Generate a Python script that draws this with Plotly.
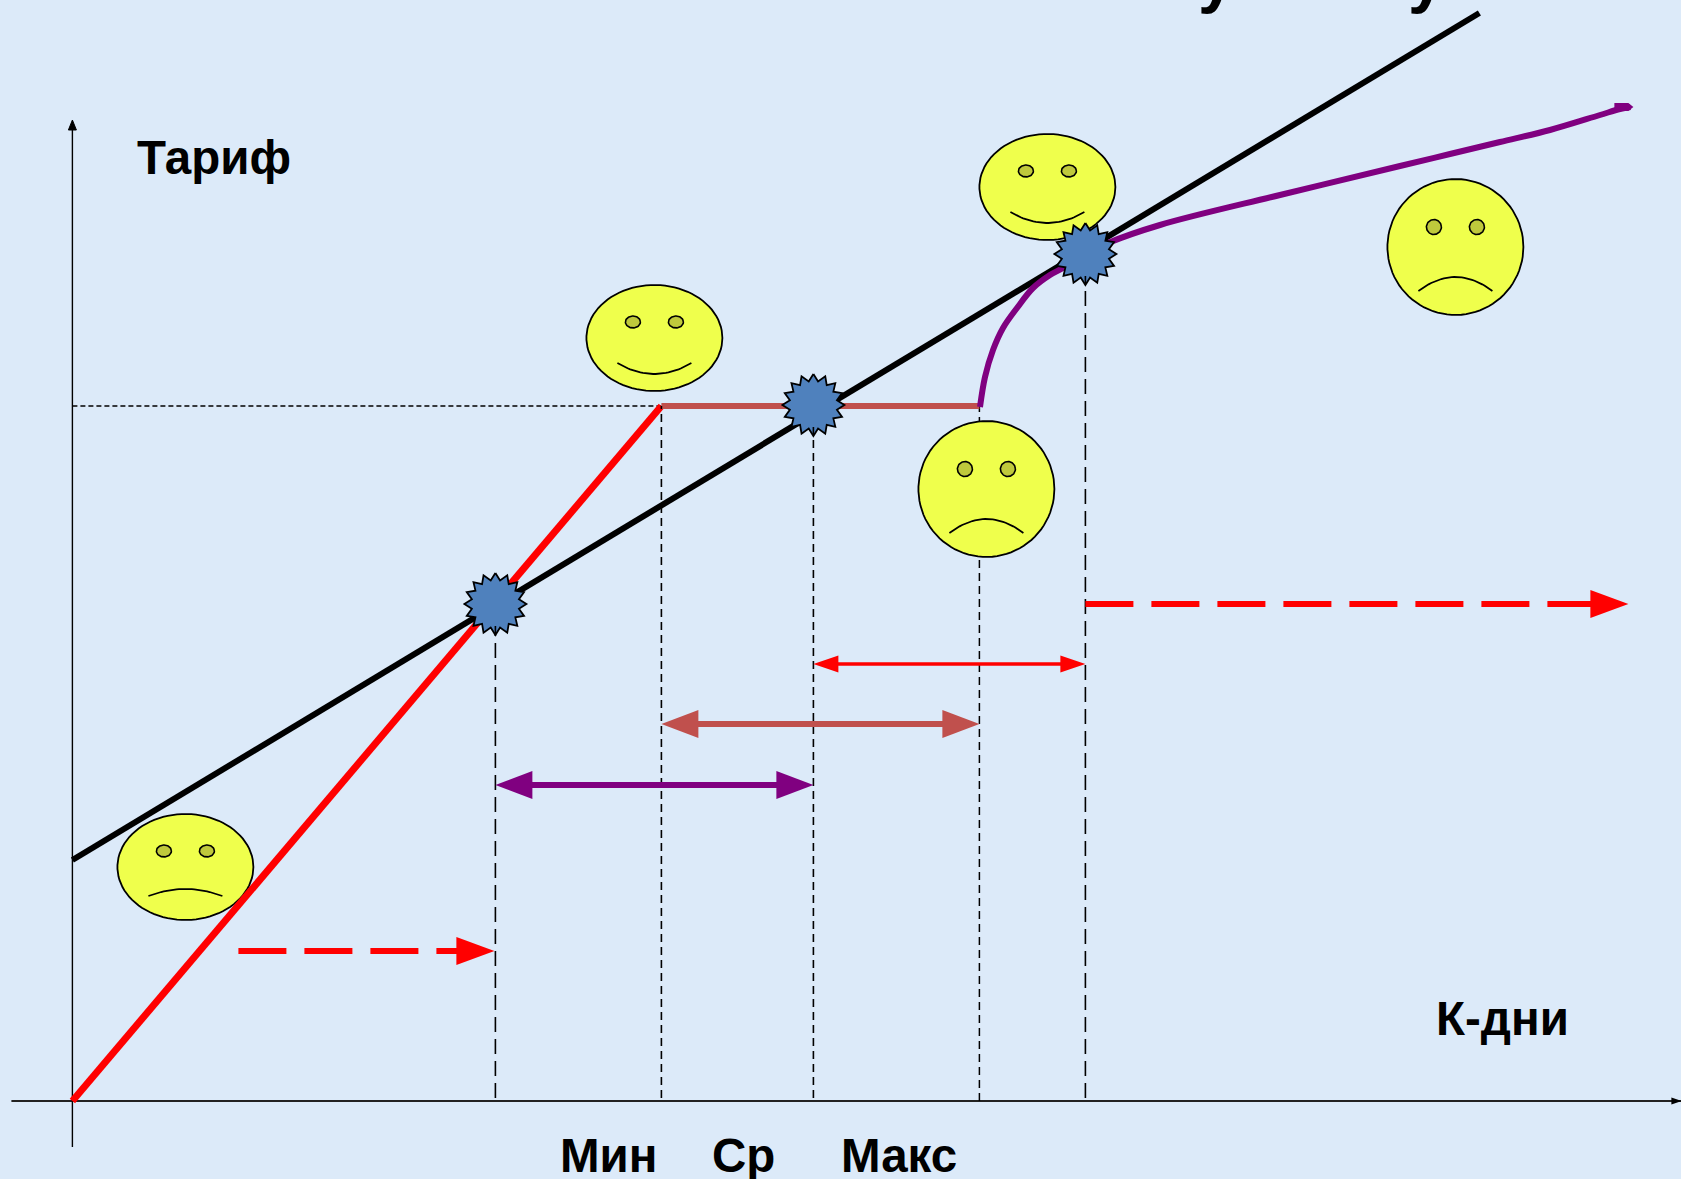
import numpy as np
import plotly.graph_objects as go

# --- chart values (x: К-дни, y: Тариф, in drawing units from the origin) ---
x_breaks = [423, 589, 741, 907, 1013]            # min-cross, Мин, Ср, Макс, max-cross
tariff_cap = 695

red_x, red_y = [0, 589], [0, 695]
brown_x, brown_y = [589, 907], [695, 695]
black_x, black_y = [0, 1407], [241, 1088]
purple_x = [907.6, 912.6, 920.6, 930.6, 944.6, 960.6, 977.6, 990.6, 1013, 1035.6, 1087.6, 1207.6, 1327.6, 1377.6, 1427.6, 1477.6, 1527.6, 1547.6, 1558]
purple_y = [694, 724, 751, 773, 793, 813, 826, 833, 847, 858, 876, 906, 935, 947, 959, 971, 986, 992, 994]
purple_tip_x = [1542, 1556, 1561, 1556, 1542, 1542]
purple_tip_y = [998, 998, 994, 990, 990, 998]

star_x = [423, 741, 1013]
star_y = [497, 696, 847]

face_x = [582, 975, 113, 914, 1383]
face_y = [763, 914, 234, 612, 854]
face_rx = [68, 68, 68, 68, 68]
face_ry = [53, 53, 53, 68, 68]
face_mood = [1, 1, -1, -1, -1]

drop_tops = {423: 497, 589: 695, 741: 696, 907: 695, 1013: 847}
drop_dash = {423: "15px,7px", 589: "8px,5px", 741: "8px,5px", 907: "8px,5px", 1013: "15px,7px"}
guide_x, guide_y = [0, 589], [695, 695]

span_red = ([741, 1013], 437)
span_brown = ([589, 907], 377)
span_purple = ([423, 741], 316)
dash_left = ([166, 422], 150)
dash_right = ([1013, 1556], 497)

labels_x = [["Мин", 536], ["Ср", 671], ["Макс", 827]]
cut_title_x = [1144, 1354]          # the only visible remains of the cropped heading

FACE, EYE, STAR = "#EFFF4C", "#BFC93C", "#4F81BD"
RED, BROWN, PURPLE = "#FF0000", "#C0504D", "#800080"

fig = go.Figure()


def line(x, y, color, width, dash="solid", fill=None, shape="linear", smoothing=None):
    ln = dict(color=color, width=width, dash=dash, shape=shape)
    if smoothing is not None:
        ln["smoothing"] = smoothing
    fig.add_trace(go.Scatter(
        x=x, y=y, mode="lines", hoverinfo="skip", showlegend=False, cliponaxis=False,
        line=ln, fill="toself" if fill else None, fillcolor=fill))


def head(tip, yc, direction, length, half, color):
    line([tip, tip - direction * length, tip - direction * length, tip],
         [yc, yc + half, yc - half, yc], color, 0, fill=color)


def ellipse(cx, cy, rx, ry, fill, w=1.8):
    t = np.linspace(0, 2 * np.pi, 90)
    line(list(cx + rx * np.cos(t)), list(cy + ry * np.sin(t)), "black", w, fill=fill)


def face(cx, cy, rx, ry, mood):
    ellipse(cx, cy, rx, ry, FACE)
    eye_dy = 20 if ry > 53 else 16
    for s in (-1, 1):
        ellipse(cx + s * 21.5, cy + eye_dy, 7.5, 6 if ry == 53 else 7.5, EYE, 1.6)
    t = np.linspace(-1, 1, 30)
    if mood > 0:
        my = cy - 25 - 11 * (1 - t ** 2)
    else:
        base = -29 if ry == 53 else -44
        rise = 7 if ry == 53 else 14
        my = cy + base + rise * (1 - t ** 2)
    line(list(cx + 37 * t), list(my), "black", 1.8)


def star(cx, cy, n=16, ro=31, ri=24):
    a = np.linspace(0, 2 * np.pi, 2 * n + 1) + np.pi / 2
    r = np.where(np.arange(2 * n + 1) % 2 == 0, ro, ri)
    line(list(cx + r * np.cos(a)), list(cy + r * np.sin(a)), "black", 1.8, fill=STAR)


# axes
line([-61, 1609], [0, 0], "#222222", 2)
head(1609, 0, 1, 10, 3.5, "black")
line([0, 0], [-46, 971], "black", 1.4)
line([-4, 0, 4, -4], [971, 981, 971, 971], "black", 1, fill="black")

# guide under the faces
line([907, 907], [0, drop_tops[907]], "black", 1.5, drop_dash[907])
line(guide_x, guide_y, "black", 1.4, "5px,3px")

# faces
for fx, fy, rx, ry, m in zip(face_x, face_y, face_rx, face_ry, face_mood):
    face(fx, fy, rx, ry, m)

# main lines
line(black_x, black_y, "black", 6)
line(red_x, red_y, RED, 7)
line(brown_x, brown_y, BROWN, 6)
line(purple_x, purple_y, PURPLE, 6, shape="spline", smoothing=1)
line(purple_tip_x, purple_tip_y, PURPLE, 0, fill=PURPLE)

# bursts
for sx, sy in zip(star_x, star_y):
    star(sx, sy)

# drop lines
for bx in x_breaks:
    if bx != 907:
        top = drop_tops[bx] - (22 if bx in star_x else 0)
        line([bx, bx], [3, top], "black", 1.6, drop_dash[bx])

# spans
(xs, yv) = span_red
line([xs[0] + 10, xs[1] - 10], [yv, yv], RED, 3.5)
head(xs[0], yv, -1, 25, 8.5, RED)
head(xs[1], yv, 1, 25, 8.5, RED)
(xs, yv) = span_brown
line([xs[0] + 20, xs[1] - 20], [yv, yv], BROWN, 6)
head(xs[0], yv, -1, 37, 14, BROWN)
head(xs[1], yv, 1, 37, 14, BROWN)
(xs, yv) = span_purple
line([xs[0] + 20, xs[1] - 20], [yv, yv], PURPLE, 6)
head(xs[0], yv, -1, 37, 14, PURPLE)
head(xs[1], yv, 1, 37, 14, PURPLE)

# dashed arrows
for xs, yv in (dash_left, dash_right):
    line([xs[0], xs[1] - 30], [yv, yv], RED, 6, "48px,18px")
    head(xs[1], yv, 1, 38, 14, RED)

# text
FONT = "Liberation Sans"


def text(s, x, y, size=47.5, anchor="center", vanchor="middle"):
    fig.add_annotation(x=x, y=y, xref="x", yref="y", text=f"<b>{s}</b>",
                       showarrow=False, xanchor=anchor, yanchor=vanchor,
                       font=dict(family=FONT, size=size, color="black"))


text("Тариф", 136 - 72 - 1, 944, anchor="left")
text("К-дни", 1430, 83)
for s, lx in labels_x:
    text(s, lx, -54)
for cx in cut_title_x:
    fig.add_annotation(x=cx, y=1, xref="x", yref="paper", text="<b>у</b>", showarrow=False,
                       xanchor="center", yanchor="bottom", yshift=-16,
                       font=dict(family=FONT, size=66, color="black"))

fig.update_layout(
    width=1681, height=1179, margin=dict(l=0, r=0, t=0, b=0),
    paper_bgcolor="#DCEAF9", plot_bgcolor="#DCEAF9", showlegend=False,
    xaxis=dict(range=[-72.4, 1608.6], visible=False, fixedrange=True),
    yaxis=dict(range=[-78, 1101], visible=False, fixedrange=True),
)
fig.write_html(
    "out.html", config={"displayModeBar": False},
    post_script="document.body.style.margin='0';document.documentElement.style.background='#DCEAF9';window.dispatchEvent(new Event('resize'));",
)
